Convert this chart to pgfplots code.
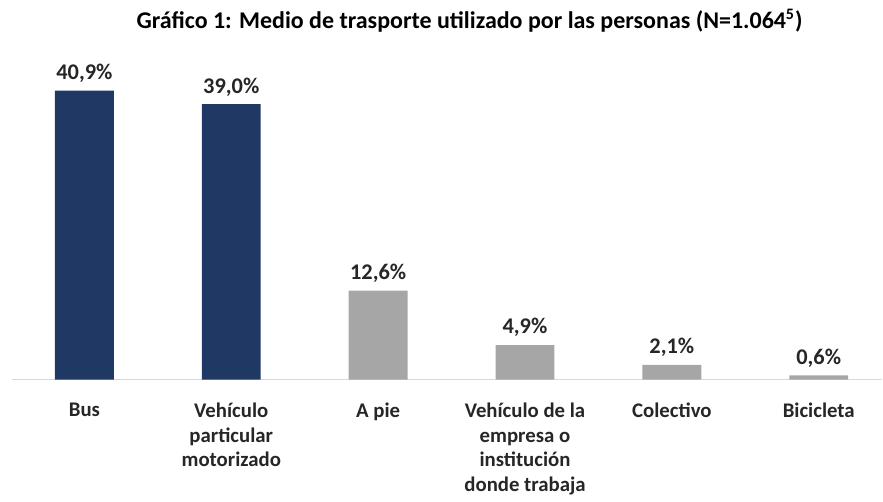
\documentclass[border=0pt]{standalone}
\usepackage{pgfplots}
\pgfplotsset{compat=1.18}
\usepackage{fontspec}
\setmainfont{Carlito}
\definecolor{navy}{HTML}{203864}
\definecolor{barGray}{HTML}{A6A6A6}
\definecolor{txt}{HTML}{262626}
\begin{document}
\begin{tikzpicture}
  \begin{axis}[
    scale only axis,
    width=435.5pt, height=160pt,
    xmin=-0.493, xmax=5.432,
    ymin=0, ymax=45.26,
    axis y line=none,
    axis x line*=bottom,
    x axis line style={draw=black!15, line width=0.8pt, -},
    ybar, bar width=29.5pt, bar shift=0pt,
    xtick={0,...,5},
    xticklabels={Bus,
      Vehículo\\particular\\motorizado,
      A pie,
      Vehículo de la\\empresa o\\institución\\donde trabaja,
      Colectivo,
      Bicicleta},
    xtick style={draw=none},
    xticklabel style={align=center, font=\bfseries\fontsize{10.4}{12.25}\selectfont, text=txt, yshift=-4pt},
    nodes near coords={\pgfmathprintnumber[fixed,fixed zerofill,precision=1,use comma]{\pgfplotspointmeta}\%},
    every node near coord/.append style={font=\bfseries\fontsize{11.2}{13}\selectfont, text=txt, yshift=0.5pt},
    /pgf/number format/assume math mode=true,
  ]
  \addplot[fill=navy, draw=none] coordinates {(0,40.9) (1,39.0)};
  \addplot[fill=barGray, draw=none] coordinates {(2,12.6) (3,4.9) (4,2.1) (5,0.6)};
  \coordinate (o) at (rel axis cs:0,0);
  \end{axis}
  \node[font=\bfseries\fontsize{12}{15}\selectfont, anchor=center] at ([shift={(229pt,179.5pt)}]o)
    {Gráfico 1: Medio de trasporte utilizado por las personas (N=1.064\textsuperscript{5})};
  \path[use as bounding box] ([shift={(-6pt,-56pt)}]o) rectangle ++(441.5pt,246pt);
\end{tikzpicture}
\end{document}
